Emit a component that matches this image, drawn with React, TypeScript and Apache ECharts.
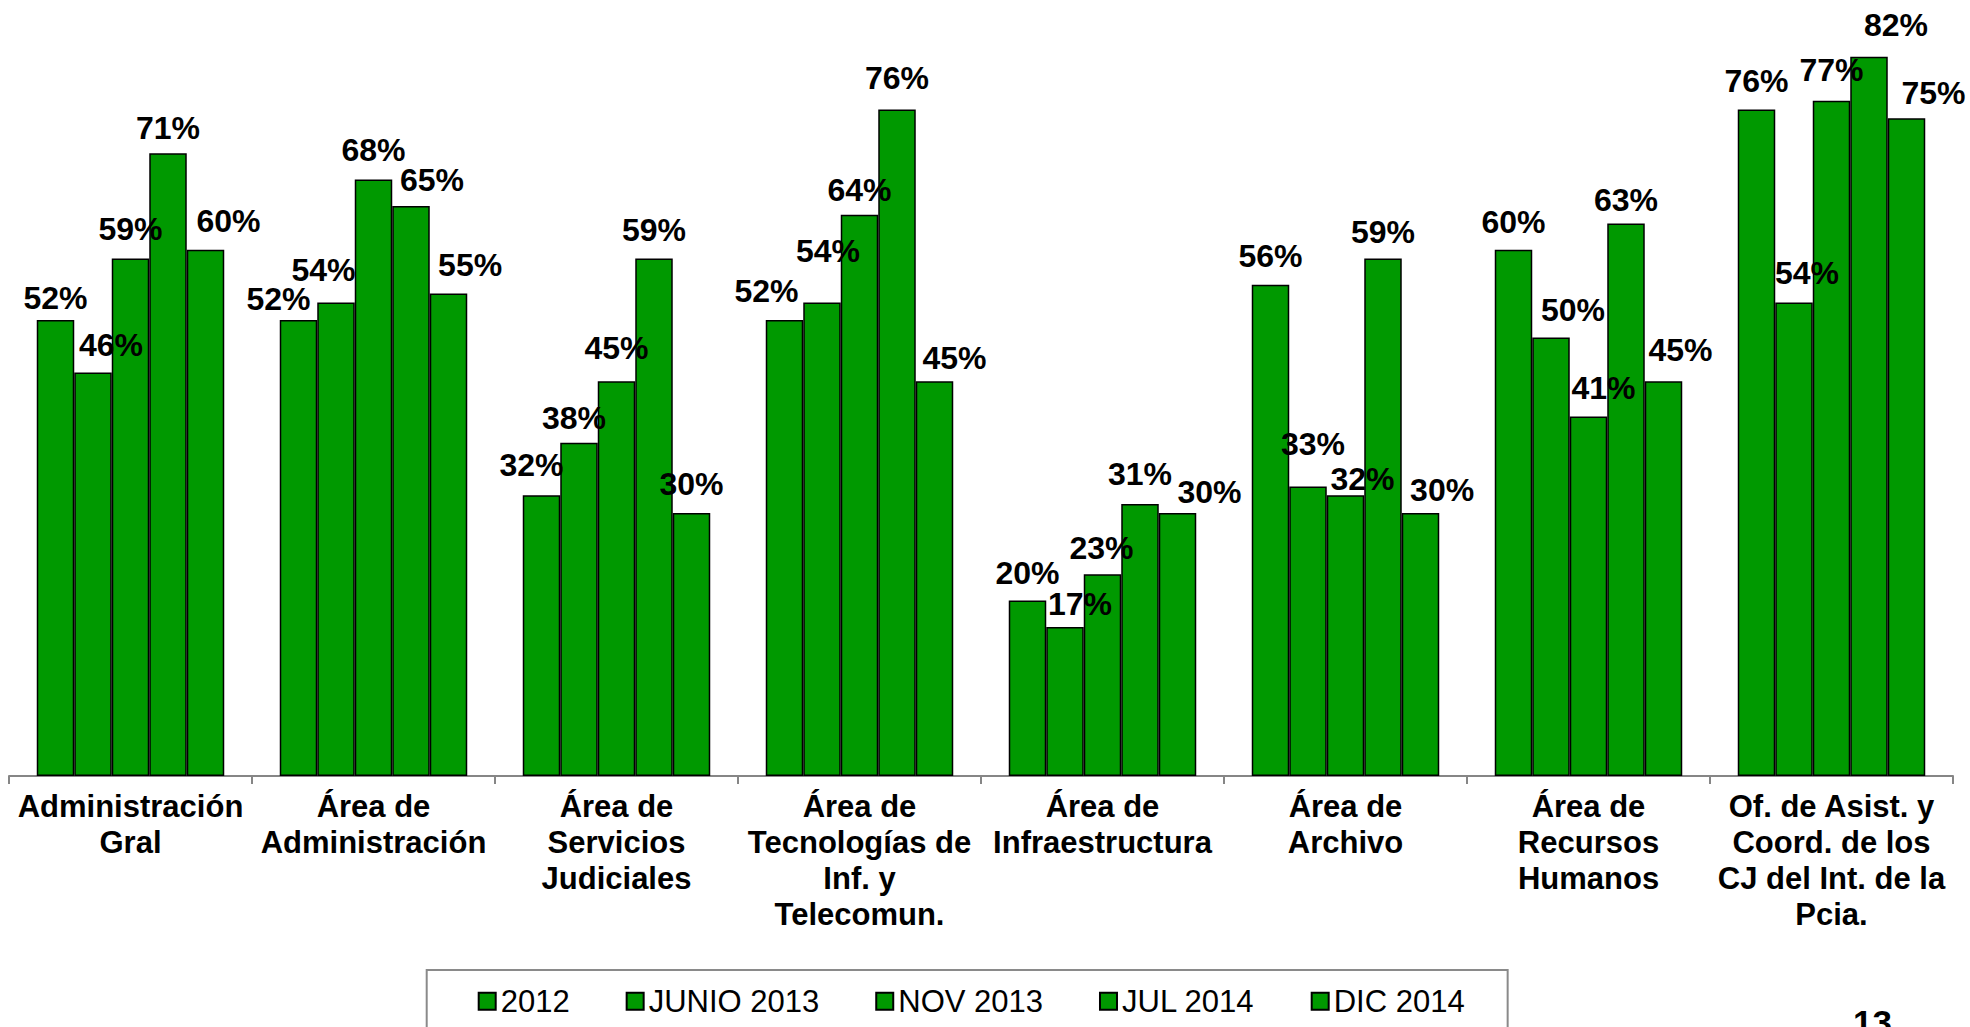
import React, { useEffect, useRef } from "react";
import * as echarts from "echarts";

const categories = [
  "Administración\nGral",
  "Área de\nAdministración",
  "Área de\nServicios\nJudiciales",
  "Área de\nTecnologías de\nInf. y\nTelecomun.",
  "Área de\nInfraestructura",
  "Área de\nArchivo",
  "Área de\nRecursos\nHumanos",
  "Of. de Asist. y\nCoord. de los\nCJ del Int. de la\nPcia.",
];

const seriesNames = ["2012", "JUNIO 2013", "NOV 2013", "JUL 2014", "DIC 2014"];

const values2012 = [52, 52, 32, 52, 20, 56, 60, 76];
const valuesJun2013 = [46, 54, 38, 54, 17, 33, 50, 54];
const valuesNov2013 = [59, 68, 45, 64, 23, 32, 41, 77];
const valuesJul2014 = [71, 65, 59, 76, 31, 59, 63, 82];
const valuesDic2014 = [60, 55, 30, 45, 30, 30, 45, 75];

const seriesValues = [values2012, valuesJun2013, valuesNov2013, valuesJul2014, valuesDic2014];

// label placement tweaks (dx, dy) per series / category, as positioned in the original
const labelOffsets = [
  [[0, -6], [-20, -5], [-10, -14], [-18, -12.5], [0, -11.6], [0, -12.7], [0, -12], [0, -12]],
  [[18, -11.6], [-12.5, -16], [-5, -8.7], [6, -35], [15, -6.7], [5, -27], [22, -11.5], [13, -13]],
  [[0, -13.6], [0, -13.6], [0, -17], [0, -9], [-1, -10.5], [17, -0.7], [15, -12.4], [0, -14.7]],
  [[0, -9], [21, -10], [0, -12.6], [0, -15.5], [0, -14], [0, -11], [0, -7.5], [27, -16]],
  [[23, -13], [21.6, -13], [0, -13], [20, -7.4], [32, -4.5], [21.6, -7], [17, -15.4], [27, -9]],
];

const FONT = "Arial, 'Liberation Sans', sans-serif";
const GREEN = "#009900";

export default function App() {
  const ref = useRef<HTMLDivElement>(null);

  useEffect(() => {
    if (!ref.current) return;
    const chart = echarts.init(ref.current, undefined, { renderer: "svg" });

    const series = seriesNames.map((name, si) => ({
      name,
      type: "bar",
      barWidth: 37.5,
      barGap: "0%",
      itemStyle: { color: GREEN, borderColor: "#000", borderWidth: 1.5 },
      label: {
        show: true,
        position: "top",
        distance: 0,
        formatter: "{c}%",
        color: "#000",
        fontFamily: FONT,
        fontWeight: "bold",
        fontSize: 32,
      },
      data: seriesValues[si].map((v, ci) => ({
        value: v,
        label: { offset: labelOffsets[si][ci] },
      })),
    }));

    chart.setOption({
      animation: false,
      backgroundColor: "#fff",
      textStyle: { fontFamily: FONT },
      grid: { left: 9, right: 17, top: 30.5, bottom: 251, containLabel: false },
      legend: {
        left: 426.7,
        top: 970,
        padding: [15.7, 43, 40, 51],
        itemGap: 56,
        itemWidth: 17,
        itemHeight: 17,
        icon: "rect",
        borderColor: "#8a8a8a",
        borderWidth: 2,
        backgroundColor: "#fff",
        textStyle: { fontFamily: FONT, fontSize: 31, color: "#000" },
        data: seriesNames,
      },
      xAxis: {
        type: "category",
        data: categories,
        axisLine: { show: true, lineStyle: { color: "#868686", width: 2 } },
        axisTick: { show: true, length: 8, lineStyle: { color: "#868686", width: 2 } },
        axisLabel: {
          interval: 0,
          margin: 12,
          color: "#000",
          fontFamily: FONT,
          fontWeight: "bold",
          fontSize: 31,
          lineHeight: 36,
          align: "center",
        },
      },
      yAxis: {
        type: "value",
        min: 0,
        max: 85,
        show: false,
        splitLine: { show: false },
      },
      graphic: [
        {
          type: "text",
          x: 1853,
          y: 1022.5,
          style: {
            text: "13",
            fill: "#000",
            font: `bold 35px ${FONT}`,
            verticalAlign: "middle",
          },
        },
      ],
      series,
    });

    return () => chart.dispose();
  }, []);

  return (
    <div
      ref={ref}
      style={{ position: "fixed", left: 0, top: 0, width: 1970, height: 1027 }}
    />
  );
}
